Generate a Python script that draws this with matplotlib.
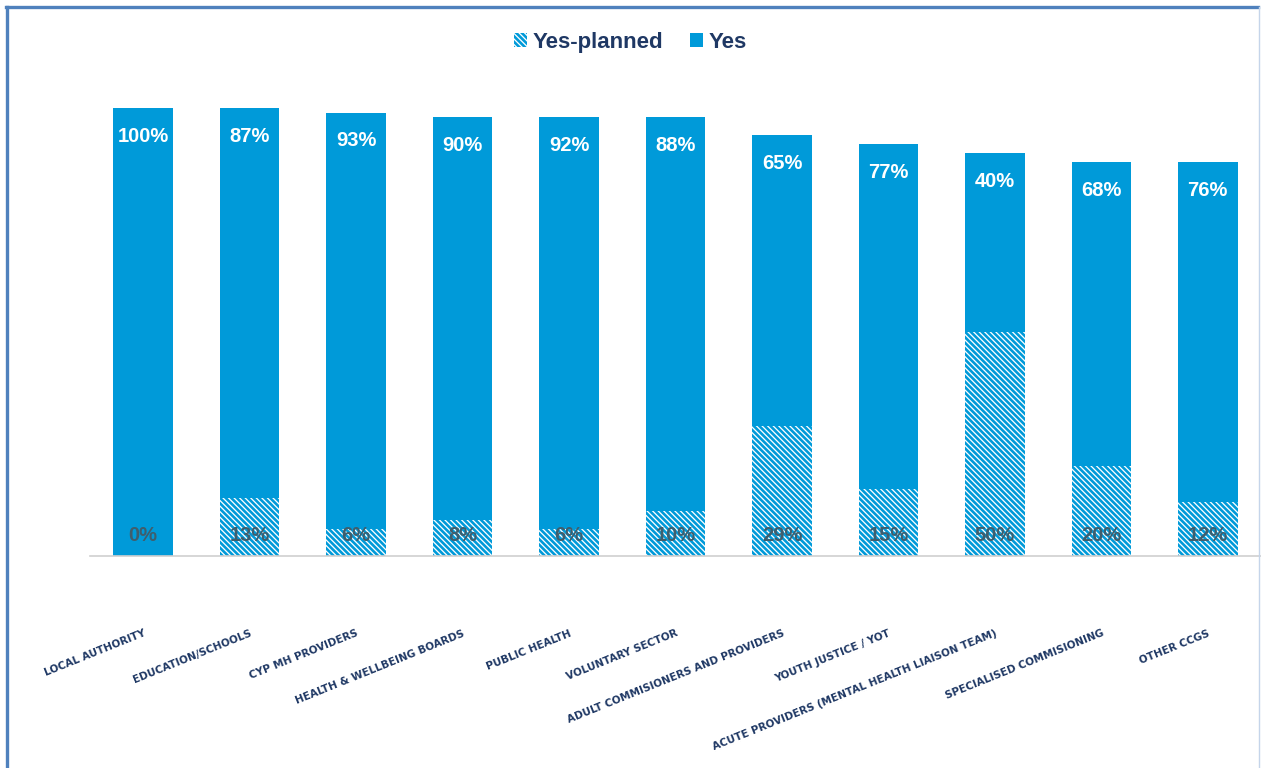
import matplotlib.pyplot as plt
import numpy as np
from matplotlib.lines import Line2D

# categories and survey shares (%)
categories = ['LOCAL AUTHORITY', 'EDUCATION/SCHOOLS', 'CYP MH PROVIDERS',
              'HEALTH & WELLBEING BOARDS', 'PUBLIC HEALTH', 'VOLUNTARY SECTOR',
              'ADULT COMMISIONERS AND PROVIDERS', 'YOUTH JUSTICE / YOT',
              'ACUTE PROVIDERS (MENTAL HEALTH LIAISON TEAM)',
              'SPECIALISED COMMISIONING', 'OTHER CCGS']
yes_planned = [0, 13, 6, 8, 6, 10, 29, 15, 50, 20, 12]
yes = [100, 87, 93, 90, 92, 88, 65, 77, 40, 68, 76]

blue = '#009ad9'
navy = '#1f3864'
label_grey = '#3f5e6d'

plt.rcParams['font.family'] = ['Liberation Sans', 'DejaVu Sans']
plt.rcParams['hatch.linewidth'] = 1.9

fig = plt.figure(figsize=(12.61, 7.68), dpi=100)
ax = fig.add_axes([90 / 1261, 0.276, 1 - 90 / 1261, 0.6125])

x = np.arange(len(categories))
w = 0.56
b1 = ax.bar(x, yes_planned, w, color='white', edgecolor=blue,
            hatch='\\\\\\\\\\\\', linewidth=0, label='Yes-planned')
b2 = ax.bar(x, yes, w, bottom=yes_planned, color=blue, linewidth=0, label='Yes')

for i in range(len(x)):
    top = yes_planned[i] + yes[i]
    ax.text(x[i], top - 4.2, f'{yes[i]}%', ha='center', va='top',
            color='white', fontsize=14.5, fontweight='bold')
    ax.text(x[i], 2.4, f'{yes_planned[i]}%', ha='center', va='bottom',
            color=label_grey, fontsize=14.5, fontweight='bold')

ax.set_xlim(-0.5, 10.5)
ax.set_ylim(0, 105)
ax.set_yticks([])
for s in ['top', 'right', 'left']:
    ax.spines[s].set_visible(False)
ax.spines['bottom'].set_color('#d0d0d0')
ax.spines['bottom'].set_linewidth(1.2)

ax.set_xticks(x)
ax.set_xticklabels(categories, rotation=22, ha='right', va='top',
                   rotation_mode='anchor', fontsize=7.5, fontweight='bold',
                   color=navy, family='DejaVu Sans')
ax.tick_params(axis='x', length=0, pad=52)

fig.legend(handles=[b1, b2], loc='upper center', bbox_to_anchor=(0.5, 0.985),
           ncol=2, frameon=False, handlelength=0.6, handleheight=0.6,
           handletextpad=0.25, columnspacing=1.2,
           prop={'size': 16, 'weight': 'bold'}, labelcolor=navy)

# outer frame of the original slide image
fig.add_artist(Line2D([7 / 1261, 7 / 1261], [0, 1 - 7 / 768],
                      transform=fig.transFigure, color='#4f81bd', lw=2.4))
fig.add_artist(Line2D([6 / 1261, 1258 / 1261], [1 - 7 / 768, 1 - 7 / 768],
                      transform=fig.transFigure, color='#4f81bd', lw=2.4))
fig.add_artist(Line2D([1259 / 1261, 1259 / 1261], [0, 1 - 7 / 768],
                      transform=fig.transFigure, color='#c5d5ea', lw=1))

fig.savefig('out.png', dpi=100)
